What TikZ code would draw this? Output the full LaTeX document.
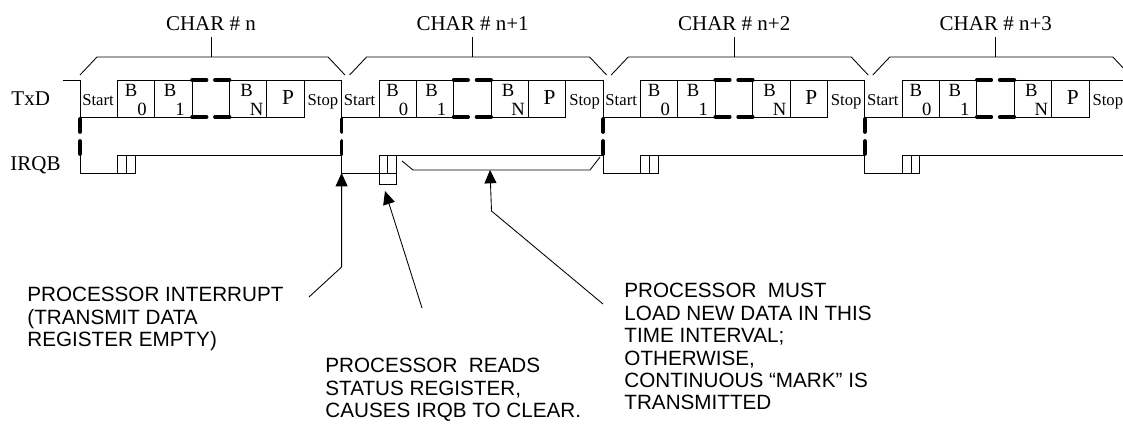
\documentclass[tikz,border=0pt]{standalone}
\usepackage{fontspec}
\setmainfont{Liberation Serif}
\newfontfamily\notefont{Liberation Sans}
\usetikzlibrary{arrows.meta}

\begin{document}
\begin{tikzpicture}[x=0.75pt,y=-0.75pt,line width=0.65pt,
  lab/.style={font=\fontsize{15.75}{18}\selectfont, inner sep=0pt},
  cell/.style={font=\fontsize{12.5}{14}\selectfont, inner sep=0pt, anchor=base},
  bit/.style={font=\fontsize{14}{16}\selectfont, inner sep=0pt, anchor=base},
  note/.style={font=\notefont\fontsize{15.5}{16.8}\selectfont, align=left, anchor=north west, inner sep=0pt},
  heavy/.style={line width=2.8pt, line cap=round},
  pointer/.style={-{Triangle[length=10pt,width=9pt]}}]
\useasboundingbox (0,0) rectangle (1123,424);

% signal names
\node[lab, anchor=base west] (txd) at (11,106) {TxD};
\node[lab, anchor=base west] (irqb) at (10,171) {IRQB};

\draw (63,80) -- (80,80);
\foreach \i/\nm/\lo in {0/n/0,1/n+1/8,2/n+2/8,3/n+3/8}{
  \pgfmathsetmacro\s{80+261.6*\i}
  % char label and bracket
  \node[lab, anchor=south, inner ysep=4.5pt] (char\i) at (\s+131,37) {CHAR \# \nm};
  \draw (char\i.south) -- (\s+131,57);
  \draw (\s+\lo,75) -- (\s+\lo+17,57) -- (\s+248,57) -- (\s+265,75);
  % TxD
  \draw (\s,80) -- (\s,117) -- (\s+37.4,117);
  \draw (\s+37.4,80) rectangle (\s+112.1,117) (\s+74.7,80) -- (\s+74.7,117);
  \draw (\s+149.5,80) rectangle (\s+224.2,117) (\s+186.9,80) -- (\s+186.9,117);
  \draw (\s+224.2,80) -- (\s+261.6,80);
  \draw[heavy] (\s+112.1,80) -- (\s+126.5,80) (\s+135,80) -- (\s+149.5,80)
               (\s+112.1,117) -- (\s+126.5,117) (\s+135,117) -- (\s+149.5,117);
  \draw[heavy] (\s,119) -- (\s,132) (\s,141) -- (\s,154);
  \node[cell] (start\i) at (\s+18,106) {Start};
  \node[bit] (bz\i) at (\s+51,97) {B};
  \node[bit] (bzs\i) at (\s+62,116) {0};
  \node[bit] (bo\i) at (\s+90,97) {B};
  \node[bit] (bos\i) at (\s+100,116) {1};
  \node[bit] (bn\i) at (\s+166.5,97) {B};
  \node[bit] (bns\i) at (\s+176.5,116) {N};
  \node[bit, font=\fontsize{16}{18}\selectfont] (par\i) at (\s+208,105) {P};
  \node[cell] (stop\i) at (\s+243,106) {Stop};
  % IRQB
  \draw (\s,155) -- (\s,173) -- (\s+37.4,173);
  \draw (\s+37.4,155) rectangle (\s+55,173) (\s+46.2,155) -- (\s+46.2,173);
  \draw (\s+55,155) -- (\s+261.6,155);
}

\draw (379,173) -- (379,184) -- (396,184) -- (396,173);
\draw (402,161) -- (413,170) -- (590,170) -- (600,157);

% notes
\node[note] (intr) at (27,287) {PROCESSOR INTERRUPT\\(TRANSMIT DATA\\REGISTER EMPTY)};
\node[note] (reads) at (325,358) {PROCESSOR~ READS\\STATUS REGISTER,\\CAUSES IRQB TO CLEAR.};
\node[note] (must) at (624,283) {PROCESSOR~ MUST\\LOAD NEW DATA IN THIS\\TIME INTERVAL;\\OTHERWISE,\\CONTINUOUS “MARK” IS\\TRANSMITTED};

\coordinate (intrfoot) at (309,297);
\coordinate (intrbend) at (341.6,267);
\coordinate (intrtip) at (341.6,173);
\coordinate (readsfoot) at (422,308);
\coordinate (readstip) at (385,191);
\coordinate (mustfoot) at (603,304);
\coordinate (mustbend) at (491.5,211);
\coordinate (musttip) at (490,170);
\draw[pointer] (intrfoot) -- (intrbend) -- (intrtip);
\draw[pointer] (readsfoot) -- (readstip);
\draw[pointer] (mustfoot) -- (mustbend) -- (musttip);
\end{tikzpicture}
\end{document}
